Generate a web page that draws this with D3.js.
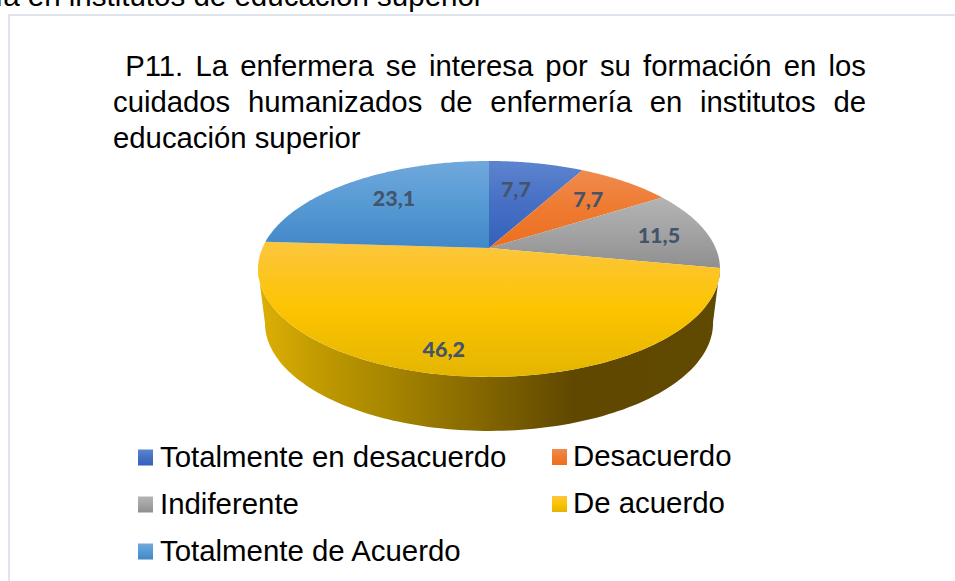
<!DOCTYPE html>
<html><head><meta charset="utf-8">
<style>html,body{margin:0;padding:0;background:#fff}svg{display:block}</style>
<script src="https://cdn.jsdelivr.net/npm/d3@7/dist/d3.min.js"></script>
</head><body><svg id="c" width="955" height="581"></svg>
<script>
const categories = ["Totalmente en desacuerdo","Desacuerdo","Indiferente","De acuerdo","Totalmente de Acuerdo"];
const values = [7.7,7.7,11.5,46.2,23.1];
const valueLabels = ["7,7","7,7","11,5","46,2","23,1"];
const gradTop = ["#5c84ce","#ef8b4e","#b4b4b4","#fcc63f","#70a8dc"];
const gradMid = ["#466fc4","#ef7a30","#a3a3a3","#fcc400","#569ad4"];
const gradBot = ["#3262bb","#ed6f1f","#8f8f8f","#e4b500","#4287c7"];
const titleLines = ["\u00a0P11. La enfermera se interesa por su formación en los","cuidados humanizados de enfermería en institutos de","educación superior"];
const labelRadius = [.64,.70,.776,.84,.694];
const labelNudge = [-2.4,.2,2.1,4.4,1.6];

const FONT = "'Liberation Sans',Arial,sans-serif";
const svg = d3.select("#c");
const defs = svg.append("defs");

// perspective pie geometry
const cx=489, cy=248, A=226.6, B=103.9, K=0.194, DEPTH=54, SHRINK=0.97;
const project=(deg,r=1)=>{
  const t=deg*Math.PI/180,u=r*Math.sin(t),v=r*Math.cos(t),w=1+K*v;
  return [cx+A*u/w, cy-B*v/w];
};
const projectBase=(deg)=>{const p=project(deg);return [cx+(p[0]-cx)*SHRINK,p[1]+DEPTH];};
const arcPts=(a,b,f=project)=>d3.range(0,121).map(i=>f(a+(b-a)*i/120));
const line=d3.line();

// background frame + clipped sentence
svg.append("text").attr("x",-5).attr("y",6).attr("font-family",FONT).attr("font-size",29.5).attr("fill","#000")
  .text("ía en institutos de educación superior");
svg.append("path").attr("d","M9,581V15H955").attr("fill","none").attr("stroke","#dde4ec").attr("stroke-width",2);

// title (justified)
const titleY=[76,112,148], titleX=[113,113,113], titleEnd=[866,866,null];
titleLines.forEach((t,i)=>{
  const el=svg.append("text").attr("x",titleX[i]).attr("y",titleY[i]).attr("font-family",FONT).attr("font-size",29.3)
    .attr("fill","#000").attr("xml:space","preserve").text(t);
  if(titleEnd[i]){
    const gaps=t.split(/[ \u00a0]/).length-1;
    const len=el.node().getComputedTextLength();
    el.attr("word-spacing",(titleEnd[i]-titleX[i]-len)/gaps);
  }
});

// gradients
categories.forEach((c,i)=>{
  const g=defs.append("linearGradient").attr("id","g"+i).attr("x1",0).attr("y1",0).attr("x2",0).attr("y2",1);
  g.append("stop").attr("offset",0).attr("stop-color",gradTop[i]);
  g.append("stop").attr("offset",.5).attr("stop-color",gradMid[i]);
  g.append("stop").attr("offset",1).attr("stop-color",gradBot[i]);
});
const wall=defs.append("linearGradient").attr("id","wall").attr("gradientUnits","userSpaceOnUse")
  .attr("x1",258).attr("x2",720).attr("y1",0).attr("y2",0);
[[0,"#deb006"],[.12,"#c29c00"],[.3,"#a48300"],[.48,"#846700"],[.68,"#604800"],[1,"#604900"]]
  .forEach(([o,c])=>wall.append("stop").attr("offset",o).attr("stop-color",c));

// pie
const arcs=d3.pie().sort(null).value(d=>d)(values).map(d=>({...d,a0:d.startAngle*180/Math.PI,a1:d.endAngle*180/Math.PI}));
const y=arcs[3];
// side wall: visible front part of the yellow slice
const wallEnd=258.8;
svg.append("path").attr("fill","url(#wall)")
  .attr("d",line(arcPts(y.a0,wallEnd).concat(arcPts(wallEnd,y.a0,projectBase)))+"Z");
// top faces
svg.selectAll("path.slice").data(arcs).join("path").attr("class","slice")
  .attr("fill",(d,i)=>`url(#g${i})`)
  .attr("d",d=>line([[cx,cy]].concat(arcPts(d.a0,d.a1)))+"Z");
// labels
svg.selectAll("text.val").data(arcs).join("text").attr("class","val")
  .each(function(d,i){
    const p=project((d.a0+d.a1)/2+labelNudge[i],labelRadius[i]);
    d3.select(this).attr("x",p[0]).attr("y",p[1]+7);
  })
  .attr("text-anchor","middle").attr("font-family","Lato,'Open Sans',sans-serif").attr("font-weight",900)
  .attr("font-size",21.5).attr("fill","#44546a").text((d,i)=>valueLabels[i]);

// legend
const legCol=[138,552], legRow=[449,496,543];
const legTextDx=22;
categories.forEach((c,i)=>{
  const col=i%2,row=Math.floor(i/2);
  const x=legCol[col],yy=legRow[row]-(col?0:-0.5);
  svg.append("rect").attr("x",x).attr("y",yy).attr("width",15).attr("height",16).attr("fill",`url(#g${i})`);
  svg.append("text").attr("x",x+legTextDx-(col?1:0)).attr("y",yy+(col?17:17.5)).attr("font-family",FONT).attr("font-size",29.4)
    .attr("fill","#000").text(c);
});
</script></body></html>
